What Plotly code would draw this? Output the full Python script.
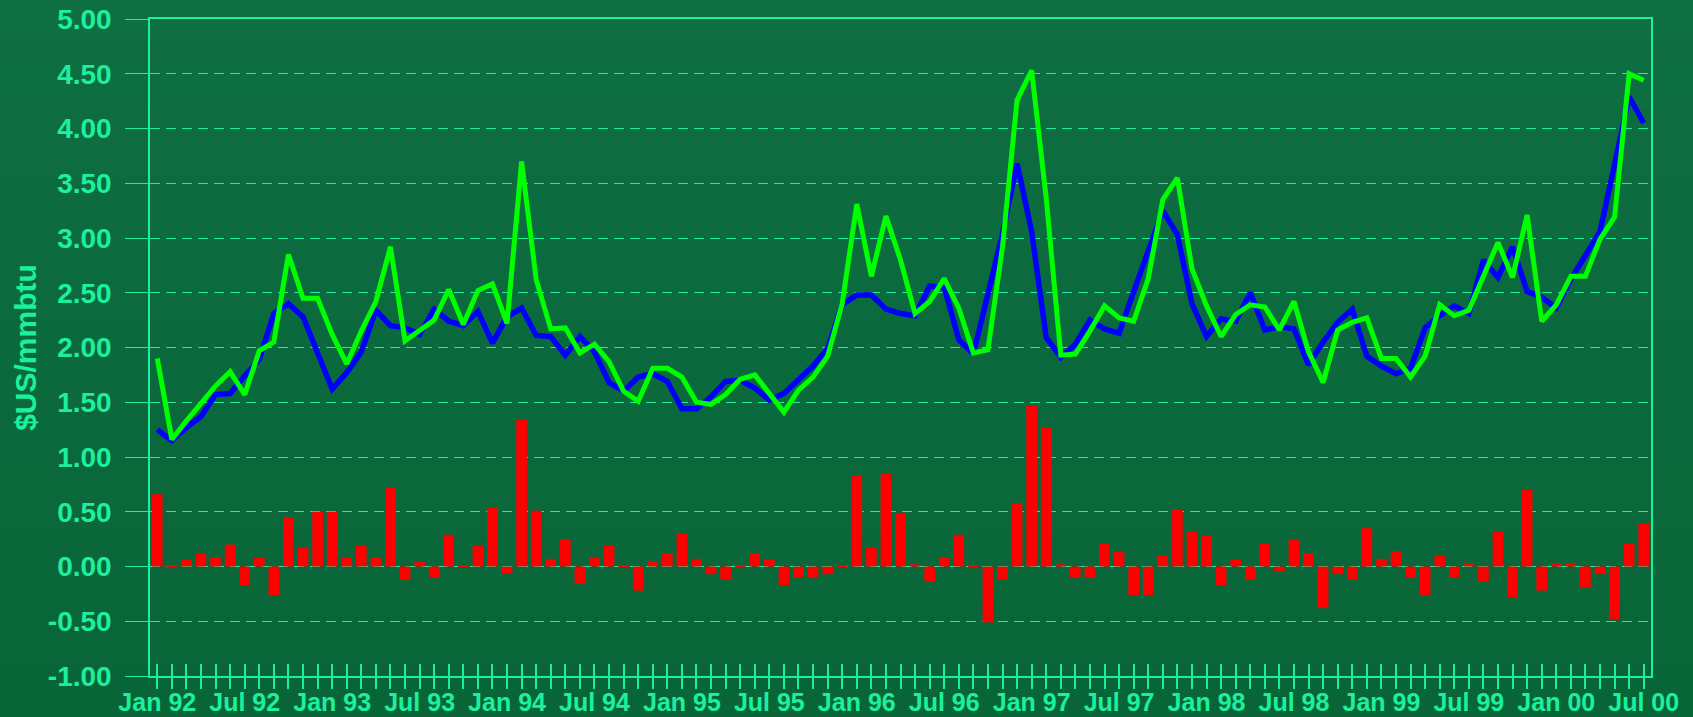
import base64
import struct
import zlib

import plotly.graph_objects as go

# Monthly labels Jan 92 .. Jul 00
month_names = ["Jan", "Feb", "Mar", "Apr", "May", "Jun", "Jul", "Aug", "Sep", "Oct", "Nov", "Dec"]
years = ["92", "93", "94", "95", "96", "97", "98", "99", "00"]
months = [f"{m} {y}" for y in years for m in month_names][:103]

# Blue series ($US/mmbtu)
blue = [1.25, 1.15, 1.27, 1.37, 1.57, 1.58, 1.74, 1.89, 2.31, 2.40, 2.28, 1.95,
        1.62, 1.77, 1.96, 2.34, 2.20, 2.18, 2.12, 2.35, 2.24, 2.20, 2.33, 2.04,
        2.28, 2.36, 2.11, 2.10, 1.93, 2.10, 1.96, 1.68, 1.60, 1.73, 1.76, 1.69,
        1.44, 1.44, 1.55, 1.69, 1.70, 1.63, 1.52, 1.58, 1.71, 1.83, 1.99, 2.39,
        2.48, 2.48, 2.35, 2.31, 2.29, 2.56, 2.55, 2.07, 1.94, 2.49, 3.04, 3.68,
        3.06, 2.09, 1.91, 2.03, 2.25, 2.17, 2.13, 2.51, 2.89, 3.25, 3.03, 2.40,
        2.10, 2.26, 2.24, 2.50, 2.16, 2.19, 2.17, 1.84, 2.05, 2.23, 2.35, 1.92,
        1.83, 1.76, 1.81, 2.18, 2.29, 2.38, 2.31, 2.80, 2.64, 2.92, 2.51, 2.46,
        2.36, 2.62, 2.84, 3.06, 3.67, 4.29, 4.05]

# Green series ($US/mmbtu)
green = [1.90, 1.16, 1.33, 1.49, 1.65, 1.78, 1.57, 1.97, 2.05, 2.85, 2.45, 2.45,
         2.12, 1.85, 2.15, 2.42, 2.92, 2.06, 2.16, 2.25, 2.53, 2.21, 2.52, 2.58,
         2.22, 3.70, 2.62, 2.17, 2.18, 1.95, 2.03, 1.87, 1.60, 1.51, 1.81, 1.81,
         1.73, 1.50, 1.48, 1.57, 1.71, 1.75, 1.58, 1.41, 1.61, 1.73, 1.92, 2.40,
         3.31, 2.65, 3.20, 2.80, 2.31, 2.42, 2.63, 2.36, 1.95, 1.98, 2.92, 4.26,
         4.53, 3.36, 1.93, 1.94, 2.15, 2.38, 2.27, 2.24, 2.63, 3.35, 3.55, 2.72,
         2.38, 2.10, 2.30, 2.39, 2.37, 2.16, 2.42, 1.96, 1.68, 2.16, 2.23, 2.27,
         1.90, 1.90, 1.73, 1.92, 2.39, 2.29, 2.34, 2.66, 2.96, 2.64, 3.21, 2.24,
         2.39, 2.65, 2.65, 2.99, 3.19, 4.50, 4.44]

# Red bars (difference)
red = [0.66, 0.01, 0.06, 0.12, 0.08, 0.20, -0.17, 0.08, -0.26, 0.45, 0.17, 0.50,
       0.50, 0.08, 0.19, 0.08, 0.72, -0.12, 0.04, -0.10, 0.29, 0.01, 0.19, 0.54,
       -0.06, 1.34, 0.51, 0.07, 0.25, -0.16, 0.08, 0.19, 0.01, -0.22, 0.05, 0.12,
       0.30, 0.07, -0.07, -0.12, 0.01, 0.12, 0.06, -0.17, -0.10, -0.10, -0.07, 0.01,
       0.83, 0.17, 0.85, 0.49, 0.02, -0.14, 0.08, 0.29, 0.01, -0.51, -0.12, 0.58,
       1.47, 1.27, 0.02, -0.10, -0.10, 0.21, 0.14, -0.26, -0.26, 0.10, 0.52, 0.32,
       0.28, -0.17, 0.06, -0.12, 0.21, -0.04, 0.25, 0.12, -0.38, -0.07, -0.12, 0.35,
       0.07, 0.14, -0.10, -0.26, 0.10, -0.10, 0.03, -0.14, 0.32, -0.28, 0.70, -0.22,
       0.03, 0.03, -0.19, -0.07, -0.48, 0.21, 0.39]

y_ticks = [-1.0, -0.5, 0.0, 0.5, 1.0, 1.5, 2.0, 2.5, 3.0, 3.5, 4.0, 4.5, 5.0]
y_tick_text = [f"{v:.2f}" for v in y_ticks]

x = list(range(len(months)))
tick_text = [m if i % 6 == 0 else "" for i, m in enumerate(months)]

MINT = "#1CF09E"
BG = "#0B6A3E"
BG_TOP = (14, 111, 66)
BG_BOTTOM = (8, 101, 56)
FONT = "Liberation Sans, Arial, sans-serif"

W, H = 1693, 717
ML, MR, MT, MB = 150, 42, 19, 41


def gradient_png(top, bottom, n=64):
    rows = []
    for k in range(n):
        t = k / (n - 1)
        rgb = bytes(int(round(a + (b - a) * t)) for a, b in zip(top, bottom))
        rows.append(b"\x00" + rgb)
    raw = b"".join(rows)

    def chunk(tag, data):
        c = struct.pack(">I", len(data)) + tag + data
        return c + struct.pack(">I", zlib.crc32(tag + data) & 0xFFFFFFFF)

    png = b"\x89PNG\r\n\x1a\n"
    png += chunk(b"IHDR", struct.pack(">IIBBBBB", 1, n, 8, 2, 0, 0, 0))
    png += chunk(b"IDAT", zlib.compress(raw))
    png += chunk(b"IEND", b"")
    return "data:image/png;base64," + base64.b64encode(png).decode()


pw, ph = W - ML - MR, H - MT - MB

fig = go.Figure()
fig.add_trace(go.Bar(x=x, y=red, marker=dict(color="#FF0000", line=dict(width=0)),
                     hoverinfo="y", name="diff"))
fig.add_trace(go.Scatter(x=x, y=blue, mode="lines", line=dict(color="#0000FF", width=5.5),
                         name="blue"))
fig.add_trace(go.Scatter(x=x, y=green, mode="lines", line=dict(color="#00FF00", width=5),
                         name="green", xaxis="x2"))

fig.add_layout_image(
    source=gradient_png(BG_TOP, BG_BOTTOM),
    xref="paper", yref="paper",
    x=-ML / pw, y=1 + MT / ph,
    sizex=W / pw, sizey=H / ph,
    sizing="stretch", xanchor="left", yanchor="top",
    layer="below",
)

fig.update_layout(
    width=W, height=H,
    margin=dict(l=ML, r=MR, t=MT, b=MB, autoexpand=False),
    paper_bgcolor=BG, plot_bgcolor="rgba(0,0,0,0)",
    showlegend=False,
    bargap=0.27,
    font=dict(family=FONT, color=MINT),
    xaxis=dict(
        range=[-0.5, len(months) - 0.5], automargin=False,
        tickmode="array", tickvals=x, ticktext=tick_text,
        ticks="inside", ticklen=12, tickwidth=1.5, tickcolor=MINT,
        ticklabelstandoff=3,
        tickfont=dict(size=25, color=MINT, family=FONT, weight="bold"),
        tickangle=0,
        showgrid=False, zeroline=False,
        showline=True, linecolor=MINT, linewidth=1.5, mirror=True,
    ),
    xaxis2=dict(
        overlaying="x", matches="x", anchor="y", side="bottom", automargin=False,
        range=[-0.5, len(months) - 0.5],
        tickmode="array", tickvals=x,
        ticks="outside", ticklen=12, tickwidth=1.5, tickcolor=MINT,
        showticklabels=False, showgrid=False, zeroline=False, showline=False,
    ),
    yaxis=dict(
        range=[-1, 5], automargin=False,
        tickmode="array", tickvals=y_ticks, ticktext=y_tick_text,
        ticks="outside", ticklen=23, tickwidth=1, tickcolor=MINT,
        ticklabelstandoff=8,
        tickfont=dict(size=28, color=MINT, family=FONT, weight="bold"),
        showgrid=True, gridcolor=MINT, gridwidth=1, griddash="10px,6px",
        zeroline=False,
        showline=True, linecolor=MINT, linewidth=1.5, mirror=True,
        title=dict(text="$US/mmbtu", standoff=2,
                   font=dict(size=30, color=MINT, family=FONT, weight="bold")),
    ),
)

fig.write_html(
    "out.html",
    config={"displayModeBar": False},
    post_script="document.body.style.margin='0';document.body.style.background='" + BG + "';",
)
